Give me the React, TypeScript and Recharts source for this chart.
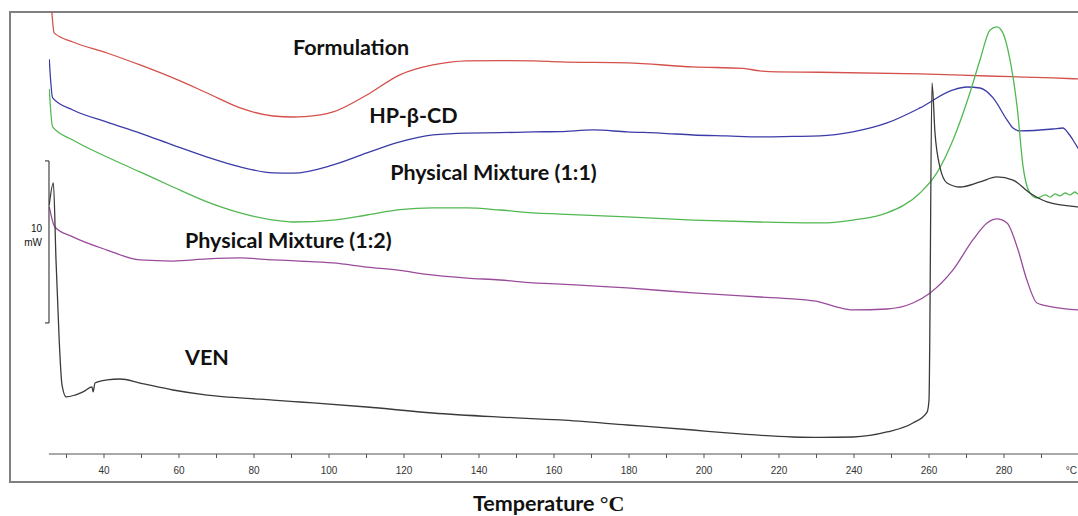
import React from 'react';
import { LineChart, Line, XAxis, YAxis, ReferenceLine, ReferenceDot } from 'recharts';

// Temperature (°C) and heat flow (mW, arbitrary offset)
const formulation = [
  { t: 26.1, mw: 27.28 }, { t: 26.7, mw: 25.99 }, { t: 31.7, mw: 25.43 }, { t: 40.8, mw: 24.75 },
  { t: 49.6, mw: 24.01 }, { t: 58.4, mw: 23.21 }, { t: 67.5, mw: 22.28 }, { t: 76.3, mw: 21.36 },
  { t: 85.1, mw: 20.86 }, { t: 90.4, mw: 20.8 }, { t: 93.5, mw: 20.82 }, { t: 101.1, mw: 21.11 },
  { t: 110.1, mw: 22.16 }, { t: 118.9, mw: 23.4 }, { t: 127.7, mw: 24.01 }, { t: 136.8, mw: 24.26 },
  { t: 145.6, mw: 24.28 }, { t: 154.4, mw: 24.26 }, { t: 161.6, mw: 24.2 }, { t: 179.5, mw: 24.14 },
  { t: 197.1, mw: 23.89 }, { t: 210.4, mw: 23.8 }, { t: 214.9, mw: 23.64 }, { t: 219.5, mw: 23.58 },
  { t: 230.9, mw: 23.56 }, { t: 257.6, mw: 23.46 }, { t: 275.5, mw: 23.33 }, { t: 293.1, mw: 23.21 },
  { t: 299.7, mw: 23.15 }, { t: 305, mw: 23.1 },
];

const hpbcd = [
  { t: 25.4, mw: 24.36 }, { t: 26.3, mw: 21.98 }, { t: 31.7, mw: 21.23 }, { t: 40.8, mw: 20.49 },
  { t: 49.6, mw: 19.81 }, { t: 58.4, mw: 19.07 }, { t: 67.5, mw: 18.33 }, { t: 76.3, mw: 17.72 },
  { t: 85.1, mw: 17.35 }, { t: 90.4, mw: 17.33 }, { t: 101.1, mw: 17.84 }, { t: 110.1, mw: 18.58 },
  { t: 118.9, mw: 19.26 }, { t: 127.7, mw: 19.69 }, { t: 136.8, mw: 19.81 }, { t: 145.6, mw: 19.83 },
  { t: 154.4, mw: 19.88 }, { t: 161.6, mw: 19.9 }, { t: 170.4, mw: 20.0 }, { t: 179.5, mw: 19.88 },
  { t: 188.3, mw: 19.81 }, { t: 197.1, mw: 19.69 }, { t: 206.1, mw: 19.63 }, { t: 214.9, mw: 19.57 },
  { t: 223.7, mw: 19.6 }, { t: 230.9, mw: 19.63 }, { t: 239.7, mw: 19.88 }, { t: 248.8, mw: 20.43 },
  { t: 257.6, mw: 21.36 }, { t: 266.4, mw: 22.47 }, { t: 270.1, mw: 22.65 }, { t: 273.6, mw: 22.59 },
  { t: 277.1, mw: 21.98 }, { t: 280.8, mw: 20.62 }, { t: 282.4, mw: 20.12 }, { t: 284.3, mw: 19.94 },
  { t: 293.1, mw: 20.06 }, { t: 295.7, mw: 20.12 }, { t: 297.1, mw: 19.81 }, { t: 298.4, mw: 19.38 },
  { t: 299.7, mw: 18.89 }, { t: 301.6, mw: 18.27 },
];

const pm11 = [
  { t: 25.4, mw: 22.53 }, { t: 26.3, mw: 20.19 }, { t: 31.7, mw: 19.38 }, { t: 40.8, mw: 18.33 },
  { t: 49.6, mw: 17.41 }, { t: 58.4, mw: 16.48 }, { t: 67.5, mw: 15.56 }, { t: 76.3, mw: 14.88 },
  { t: 85.1, mw: 14.44 }, { t: 90.4, mw: 14.32 }, { t: 101.1, mw: 14.44 }, { t: 110.1, mw: 14.75 },
  { t: 118.9, mw: 15.08 }, { t: 127.7, mw: 15.19 }, { t: 136.8, mw: 15.19 }, { t: 145.6, mw: 15.06 },
  { t: 154.4, mw: 14.88 }, { t: 161.6, mw: 14.81 }, { t: 179.5, mw: 14.63 }, { t: 197.1, mw: 14.44 },
  { t: 214.9, mw: 14.32 }, { t: 230.9, mw: 14.26 }, { t: 239.7, mw: 14.44 }, { t: 248.8, mw: 14.88 },
  { t: 257.6, mw: 16.11 }, { t: 262.1, mw: 17.35 }, { t: 266.4, mw: 19.38 }, { t: 270.9, mw: 22.28 },
  { t: 273.6, mw: 24.32 }, { t: 276.3, mw: 26.17 }, { t: 278.1, mw: 26.36 }, { t: 279.7, mw: 25.99 },
  { t: 281.6, mw: 24.32 }, { t: 283.5, mw: 21.42 }, { t: 285.1, mw: 17.72 }, { t: 286.9, mw: 16.11 },
  { t: 288.8, mw: 15.8 }, { t: 291.0, mw: 15.99 }, { t: 292.3, mw: 15.86 }, { t: 293.6, mw: 16.05 },
  { t: 294.9, mw: 15.93 }, { t: 296.3, mw: 16.11 }, { t: 297.6, mw: 15.99 }, { t: 298.9, mw: 16.17 },
  { t: 299.7, mw: 16.05 }, { t: 301.5, mw: 16.1 },
];

const pm12 = [
  { t: 25.4, mw: 15.25 }, { t: 26.9, mw: 14.01 }, { t: 31.7, mw: 13.4 }, { t: 40.8, mw: 12.59 },
  { t: 49.6, mw: 11.98 }, { t: 58.4, mw: 11.91 }, { t: 67.5, mw: 12.04 }, { t: 76.3, mw: 12.1 },
  { t: 85.1, mw: 11.98 }, { t: 92.3, mw: 11.91 }, { t: 101.1, mw: 11.79 }, { t: 110.1, mw: 11.54 },
  { t: 118.9, mw: 11.33 }, { t: 126.1, mw: 11.08 }, { t: 136.8, mw: 10.86 }, { t: 145.6, mw: 10.74 },
  { t: 154.4, mw: 10.56 }, { t: 161.6, mw: 10.49 }, { t: 179.5, mw: 10.25 }, { t: 197.1, mw: 9.94 },
  { t: 214.9, mw: 9.69 }, { t: 223.7, mw: 9.57 }, { t: 230.9, mw: 9.38 }, { t: 235.5, mw: 9.07 },
  { t: 239.7, mw: 8.89 }, { t: 248.8, mw: 8.95 }, { t: 255.7, mw: 9.32 }, { t: 260.3, mw: 9.94 },
  { t: 266.4, mw: 11.36 }, { t: 271.7, mw: 13.21 }, { t: 275.5, mw: 14.26 }, { t: 278.1, mw: 14.51 },
  { t: 280.8, mw: 14.26 }, { t: 283.5, mw: 12.78 }, { t: 286.1, mw: 10.74 }, { t: 288.8, mw: 9.32 },
  { t: 293.1, mw: 9.07 }, { t: 299.7, mw: 8.89 }, { t: 303, mw: 8.85 },
];

const ven = [
  { t: 25.4, mw: 15.37 }, { t: 26.5, mw: 16.73 }, { t: 27.2, mw: 11.98 }, { t: 28.05, mw: 7.04 },
  { t: 28.8, mw: 4.26 }, { t: 29.9, mw: 3.52 }, { t: 32.3, mw: 3.64 }, { t: 34.4, mw: 3.83 },
  { t: 36.8, mw: 4.14 }, { t: 37.1, mw: 3.83 }, { t: 37.6, mw: 4.38 }, { t: 40.8, mw: 4.57 },
  { t: 44.3, mw: 4.63 }, { t: 49.6, mw: 4.38 }, { t: 58.4, mw: 3.95 }, { t: 67.5, mw: 3.64 },
  { t: 76.3, mw: 3.46 }, { t: 85.1, mw: 3.33 }, { t: 92.3, mw: 3.21 }, { t: 110.1, mw: 2.9 },
  { t: 127.7, mw: 2.53 }, { t: 145.6, mw: 2.28 }, { t: 161.6, mw: 2.1 }, { t: 179.5, mw: 1.79 },
  { t: 197.1, mw: 1.48 }, { t: 206.1, mw: 1.3 }, { t: 223.7, mw: 1.05 }, { t: 230.9, mw: 1.02 },
  { t: 239.7, mw: 1.05 }, { t: 248.8, mw: 1.36 }, { t: 255.7, mw: 1.91 }, { t: 259.5, mw: 2.59 },
  { t: 260.0, mw: 3.33 }, { t: 260.8, mw: 22.9 }, { t: 261.6, mw: 19.81 }, { t: 262.9, mw: 17.72 },
  { t: 264.8, mw: 16.73 }, { t: 268.3, mw: 16.48 }, { t: 273.6, mw: 16.79 }, { t: 278.1, mw: 17.1 },
  { t: 282.4, mw: 16.91 }, { t: 286.9, mw: 16.11 }, { t: 291.5, mw: 15.56 }, { t: 299.7, mw: 15.25 },
  { t: 303, mw: 15.2 },
];

const xTicks = [30, 40, 50, 60, 70, 80, 90, 100, 110, 120, 130, 140, 150, 160, 170, 180, 190, 200, 210, 220, 230, 240, 250, 260, 270, 280, 290, 300];
const labeledTicks = [40, 60, 80, 100, 120, 140, 160, 180, 200, 220, 240, 260, 280];
const unitTick = 300;

const seriesNames = ['Formulation', 'HP-β-CD', 'Physical Mixture (1:1)', 'Physical Mixture (1:2)', 'VEN'];
const seriesLabelT = [90.4, 110.7, 116.3, 61.6, 61.6];
const seriesLabelMW = [24.63, 20.43, 16.91, 12.72, 5.49];

const scaleBarT = 25.33;
const scaleBarCapT = 24.27;
const scaleBarLow = 8.09;
const scaleBarHigh = 18.09;
const scaleTextT = 23.47;
const scaleTexts = ['10', 'mW'];
const scaleTextMW = [13.72, 12.84];

const X_DOMAIN: [number, number] = [25.3, 310];
const Y_DOMAIN: [number, number] = [0, 27.28];

const TICK_FONT = "'Liberation Sans', Arial, sans-serif";
const LABEL_FONT = "Lato, 'Open Sans', sans-serif";

const AxisTick = (props: any) => {
  const { x, y, payload } = props;
  const v = payload.value;
  if (v === unitTick) {
    return (
      <text x={x - 2} y={y + 13.5} textAnchor="end" fontSize={10} fill="#333" fontFamily={TICK_FONT}>°C</text>
    );
  }
  if (labeledTicks.includes(v)) {
    return (
      <text x={x} y={y + 13.5} textAnchor="middle" fontSize={10} fill="#333" fontFamily={TICK_FONT}>{v}</text>
    );
  }
  return <g />;
};

const AxisTitle = () => (
  <text x={473} y={511} fontSize={21.5} fill="#111">
    <tspan fontFamily={LABEL_FONT} fontWeight="bold">Temperature </tspan>
    <tspan fontFamily="'Liberation Serif', 'DejaVu Serif', serif" fontWeight="bold" fontSize={22}>°C</tspan>
  </text>
);

const makeTextShape = (txt: string, anchor: string, size: number, family: string, weight: string) => (p: any) => (
  <text x={p.cx} y={p.cy} textAnchor={anchor} fontSize={size} fontFamily={family} fontWeight={weight} fill="#111">{txt}</text>
);

const LINE_W = 1.3;

export default function App() {
  return (
    <div style={{ position: 'fixed', left: 0, top: 0, width: 1078, height: 516, overflow: 'hidden', background: '#fff' }}>
      <div style={{ position: 'absolute', left: 9, top: 11, width: 1200, height: 472, border: '2px solid #808080', boxSizing: 'border-box' }} />
      <div style={{ position: 'absolute', left: 0, top: 0 }}>
        <LineChart width={1130} height={516} margin={{ top: 12, right: 13.5, bottom: 32, left: 48.875 }}>
          <XAxis
            type="number"
            dataKey="t"
            domain={X_DOMAIN}
            allowDataOverflow
            ticks={xTicks}
            interval={0}
            tickSize={4}
            tickLine={{ stroke: '#555' }}
            axisLine={{ stroke: '#555' }}
            tick={<AxisTick />}
            height={30}
            label={<AxisTitle />}
          />
          <YAxis type="number" domain={Y_DOMAIN} allowDataOverflow hide width={0} />
          <Line data={formulation} dataKey="mw" type="monotone" stroke="#d4504b" strokeWidth={LINE_W} dot={false} isAnimationActive={false} />
          <Line data={hpbcd} dataKey="mw" type="monotone" stroke="#3c3ca8" strokeWidth={LINE_W} dot={false} isAnimationActive={false} />
          <Line data={pm11} dataKey="mw" type="monotone" stroke="#52b852" strokeWidth={LINE_W} dot={false} isAnimationActive={false} />
          <Line data={pm12} dataKey="mw" type="monotone" stroke="#9a4c9a" strokeWidth={LINE_W} dot={false} isAnimationActive={false} />
          <Line data={ven} dataKey="mw" type="monotone" stroke="#3a3a3a" strokeWidth={LINE_W} dot={false} isAnimationActive={false} />
          <ReferenceLine segment={[{ x: scaleBarT, y: scaleBarLow }, { x: scaleBarT, y: scaleBarHigh }]} stroke="#444" strokeWidth={1.2} ifOverflow="visible" />
          <ReferenceLine segment={[{ x: scaleBarCapT, y: scaleBarHigh }, { x: scaleBarT, y: scaleBarHigh }]} stroke="#444" strokeWidth={1.2} ifOverflow="visible" />
          <ReferenceLine segment={[{ x: scaleBarCapT, y: scaleBarLow }, { x: scaleBarT, y: scaleBarLow }]} stroke="#444" strokeWidth={1.2} ifOverflow="visible" />
          {scaleTexts.map((s, i) => (
            <ReferenceDot key={s} x={scaleTextT} y={scaleTextMW[i]} r={0} ifOverflow="visible"
              shape={makeTextShape(s, 'end', 10, TICK_FONT, 'normal')} />
          ))}
          {seriesNames.map((s, i) => (
            <ReferenceDot key={s} x={seriesLabelT[i]} y={seriesLabelMW[i]} r={0} ifOverflow="visible"
              shape={makeTextShape(s, 'start', 21.5, LABEL_FONT, 'bold')} />
          ))}
        </LineChart>
      </div>
    </div>
  );
}
